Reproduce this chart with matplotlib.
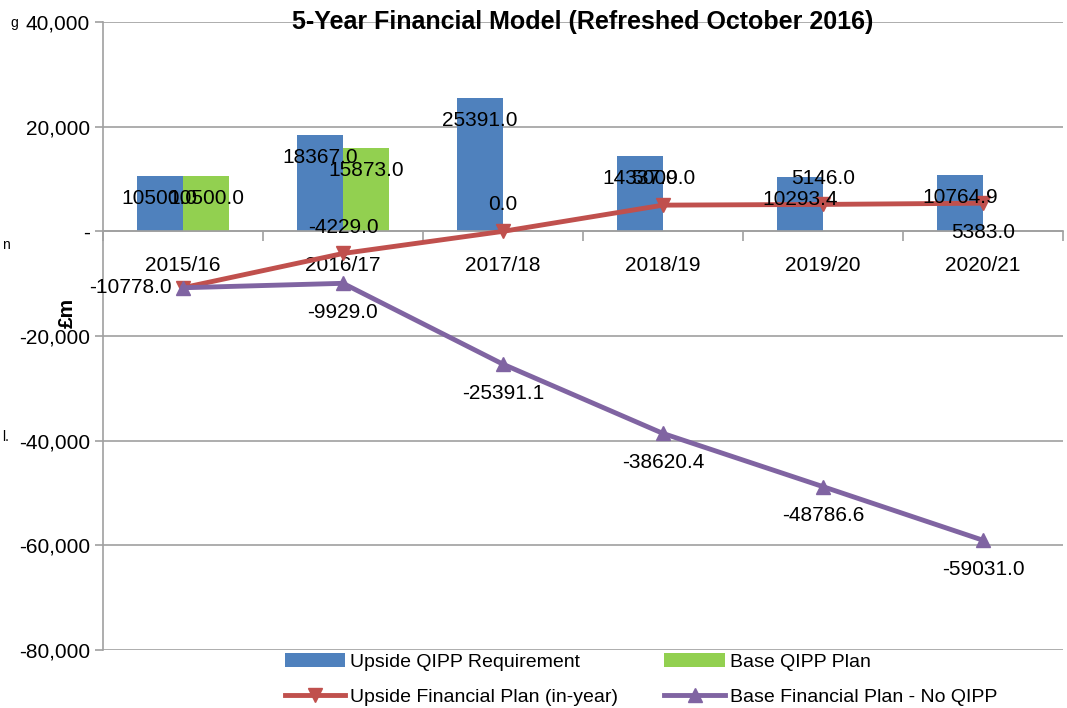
import numpy as np
import matplotlib
matplotlib.use("Agg")
import matplotlib.pyplot as plt

plt.rcParams['font.family'] = ['Liberation Sans', 'DejaVu Sans']

# Veriler
years = ["2015/16", "2016/17", "2017/18", "2018/19", "2019/20", "2020/21"]
upside_qipp = [10500.0, 18367.0, 25391.0, 14337.0, 10293.4, 10764.9]
base_qipp = [10500.0, 15873.0, None, None, None, None]
upside_plan = [-10778.0, -4229.0, 0.0, 5009.0, 5146.0, 5383.0]
base_no_qipp = [-10778.0, -9929.0, -25391.1, -38620.4, -48786.6, -59031.0]

c_blue = '#4F81BD'
c_green = '#92D050'
c_red = '#C0504D'
c_purple = '#8064A2'
c_grid = '#A0A0A0'
fs = 15

fig = plt.figure(figsize=(10.67, 7.08), dpi=100)
ax = fig.add_axes([0.0965, 0.0819, 0.8998, 0.887])

x = np.arange(len(years))
w = 0.29

# Sütunlar
b1 = ax.bar(x - w / 2, upside_qipp, w, color=c_blue, zorder=2, label='Upside QIPP Requirement')
gx = [i for i, v in enumerate(base_qipp) if v is not None]
gv = [v for v in base_qipp if v is not None]
b2 = ax.bar(np.array(gx) + w / 2, gv, w, color=c_green, zorder=2, label='Base QIPP Plan')

for xi, v in zip(x - w / 2, upside_qipp):
    ax.annotate('%.1f' % v, (xi, v), xytext=(0, -16), textcoords='offset points',
                ha='center', va='center', fontsize=fs, zorder=5)
for xi, v in zip(np.array(gx) + w / 2, gv):
    ax.annotate('%.1f' % v, (xi, v), xytext=(0, -16), textcoords='offset points',
                ha='center', va='center', fontsize=fs, zorder=5)

# Çizgiler
l1, = ax.plot(x, upside_plan, color=c_red, lw=3.5, marker='v', ms=10, zorder=3,
              label='Upside Financial Plan (in-year)')
l2, = ax.plot(x, base_no_qipp, color=c_purple, lw=3.5, marker='^', ms=10, zorder=3,
              label='Base Financial Plan - No QIPP')

for i, v in enumerate(upside_plan):
    if i == 0:
        off, ha = (-8, 0), 'right'
    elif i == 5:
        off, ha = (0, -21), 'center'
    else:
        off, ha = (0, 19), 'center'
    ax.annotate('%.1f' % v, (x[i], v), xytext=off, textcoords='offset points',
                ha=ha, va='center', fontsize=fs, zorder=5)
# ilk nokta kırmızı etiketle aynı yerde (üst üste)
for i, v in enumerate(base_no_qipp):
    if i == 0:
        continue
    ax.annotate('%.1f' % v, (x[i], v), xytext=(0, -21), textcoords='offset points',
                ha='center', va='center', fontsize=fs, zorder=5)

# Eksenler
ax.set_xlim(-0.5, 5.5)
ax.set_ylim(-80000, 40000)
yt = list(range(-80000, 40001, 20000))
ax.set_yticks(yt)
ax.set_yticklabels([('{:,}'.format(t) if t != 0 else '-') for t in yt], fontsize=fs)
ax.yaxis.grid(True, color=c_grid, lw=1.2, zorder=0)
ax.set_axisbelow(True)

ax.spines['top'].set_visible(False)
ax.spines['right'].set_visible(False)
ax.spines['bottom'].set_position(('data', 0))
ax.spines['bottom'].set_color(c_grid)
ax.spines['bottom'].set_linewidth(1.2)
ax.spines['left'].set_color(c_grid)
ax.spines['left'].set_linewidth(1.2)

ax.set_xticks(np.arange(-0.5, 5.6, 1.0))
ax.set_xticklabels([])
ax.set_xticks(x, minor=True)
ax.set_xticklabels(years, minor=True, fontsize=fs)
ax.tick_params(axis='x', which='major', length=7, width=1.2, color=c_grid, direction='out')
ax.tick_params(axis='x', which='minor', length=0, pad=18)
ax.tick_params(axis='y', length=6, width=1.2, color=c_grid, direction='out')

ax.set_ylabel('£m', fontsize=fs, fontweight='bold')
ax.yaxis.set_label_coords(-0.027, 0.537)
ax.set_title('5-Year Financial Model (Refreshed October 2016)', fontsize=18,
             fontweight='bold', y=1.0, pad=-5)

fig.legend(handles=[b1, l1, b2, l2], ncol=2, loc='upper left',
           bbox_to_anchor=(285 / 1067, 1 - 653 / 708), frameon=False, fontsize=14,
           borderpad=0, borderaxespad=0,
           handlelength=3.1, columnspacing=2.37, handletextpad=0.26, labelspacing=0.9)

# Sol kenardaki kesik yazılar
fig.text(0.010, 0.962, 'g', fontsize=10)
fig.text(0.002, 0.648, 'n', fontsize=10)
fig.text(0.002, 0.377, 'l.', fontsize=10)

plt.savefig('out.png', dpi=100)
